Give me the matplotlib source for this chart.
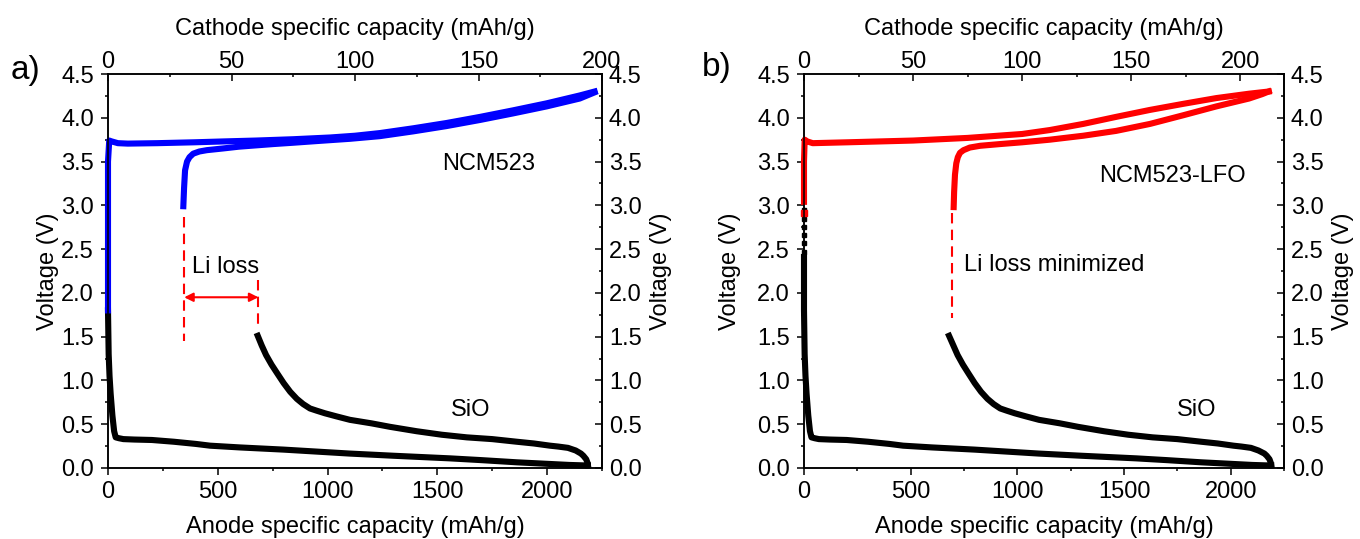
import numpy as np
import matplotlib
matplotlib.use('Agg')
import matplotlib.pyplot as plt
from matplotlib.ticker import MultipleLocator

plt.rcParams['font.family'] = ['Liberation Sans', 'DejaVu Sans']
plt.rcParams['axes.linewidth'] = 1.1

FS = 17
LW = 4.4

# ---- panel a: NCM523 (cathode axis, top) ----
a_chg_cap = [0, 0, 0, 0.5, 1.5, 4, 8, 20, 35, 47, 60, 75, 90, 100, 110, 123.6, 137, 150.6, 164, 177.6, 191, 197]
a_chg_v = [1.8, 2.6, 3.5, 3.74, 3.73, 3.71, 3.705, 3.71, 3.72, 3.73, 3.74, 3.755, 3.775, 3.795, 3.825,
           3.88, 3.94, 4.01, 4.085, 4.165, 4.255, 4.30]
a_dis_cap = [197, 191, 177.6, 164, 150.6, 137, 123.6, 110, 98, 85, 75, 67, 60, 53, 46.7, 40, 37, 34.5,
             33, 32, 31.2, 30.8, 30.5]
a_dis_v = [4.29, 4.22, 4.13, 4.05, 3.975, 3.905, 3.845, 3.79, 3.76, 3.735, 3.715, 3.70, 3.685, 3.67,
           3.65, 3.63, 3.615, 3.59, 3.55, 3.5, 3.4, 3.2, 2.99]

# ---- panel b: NCM523-LFO (cathode axis, top) ----
b_chg_cap = [0, 0, 0.3, 1.5, 4, 20, 50, 75, 100, 112.7, 128, 143, 158.6, 174, 189, 204, 213]
b_chg_v = [3.04, 3.5, 3.75, 3.73, 3.71, 3.72, 3.74, 3.77, 3.815, 3.86, 3.93, 4.01, 4.09, 4.16, 4.225, 4.275, 4.30]
b_dis_cap = [213, 210, 204, 189, 174, 158.6, 143, 128, 112.7, 100, 90, 80.7, 76, 73.1, 71.5, 70.5, 69.8,
             69.2, 68.8, 68.6]
b_dis_v = [4.30, 4.27, 4.22, 4.13, 4.03, 3.93, 3.85, 3.795, 3.75, 3.72, 3.70, 3.68, 3.66, 3.63, 3.60,
           3.55, 3.48, 3.35, 3.15, 2.98]
b_dot_cap = [0]
b_dot_v = [2.91]

# ---- SiO anode (anode axis, bottom) ----
sio_lith_cap = [0, 3, 7, 12, 20, 28, 35, 50, 70, 120, 200, 300, 400, 465, 600, 800, 1000, 1100, 1300,
                1558, 1700, 1862, 2013, 2100, 2165, 2186]
sio_lith_v = [1.8, 1.3, 1.05, 0.85, 0.6, 0.42, 0.35, 0.34, 0.33, 0.325, 0.32, 0.30, 0.275, 0.255, 0.235,
              0.21, 0.18, 0.165, 0.14, 0.11, 0.09, 0.065, 0.046, 0.035, 0.03, 0.03]
sio_deli_cap = [2186, 2184, 2178, 2165, 2154, 2130, 2095, 2050, 2013, 1940, 1862, 1750, 1634, 1520, 1406,
                1285, 1200, 1102, 1040, 988, 950, 920, 889, 860, 830, 800, 771, 745, 720, 700, 682]
sio_deli_v = [0.03, 0.06, 0.10, 0.14, 0.165, 0.20, 0.23, 0.245, 0.255, 0.28, 0.30, 0.33, 0.35, 0.38, 0.42,
              0.47, 0.51, 0.55, 0.59, 0.625, 0.655, 0.68, 0.73, 0.79, 0.87, 0.97, 1.08, 1.18, 1.29, 1.40, 1.51]

b_lith_cap = [0, 0] + sio_lith_cap[1:-1] + [2190]
b_lith_v = [2.41, 1.8] + sio_lith_v[1:]
b_deli_cap = [2190, 2188, 2182, 2169, 2158] + sio_deli_cap[5:-1] + [680]
b_deli_v = sio_deli_v
b_mark_cap = [0, 0, 0, 0, 0, 0]
b_mark_v = [2.95, 2.84, 2.75, 2.66, 2.57, 2.47]


def setup(fig, rect, top_max, ylpad):
    ax = fig.add_axes(rect)
    ax.set_xlim(0, 2250)
    ax.set_ylim(0, 4.5)
    ax.xaxis.set_major_locator(MultipleLocator(500))
    ax.xaxis.set_minor_locator(MultipleLocator(250))
    ax.yaxis.set_major_locator(MultipleLocator(0.5))
    ax.yaxis.set_minor_locator(MultipleLocator(0.25))
    ax.yaxis.set_major_formatter('{x:.1f}')
    ax.tick_params(axis='both', which='both', direction='out', top=False, right=False,
                   labelsize=FS, width=1.1)
    ax.tick_params(which='major', length=5)
    ax.tick_params(which='minor', length=2.5)
    ax.tick_params(axis='x', which='major', pad=4.5)
    ax.tick_params(axis='y', which='major', pad=5)
    ax.set_xlabel('Anode specific capacity (mAh/g)', fontsize=FS, labelpad=9)
    ax.set_ylabel('Voltage (V)', fontsize=FS, labelpad=ylpad)

    top = ax.twiny()
    top.set_xlim(0, top_max)
    top.xaxis.set_major_locator(MultipleLocator(50))
    top.xaxis.set_minor_locator(MultipleLocator(25))
    top.tick_params(axis='x', which='both', direction='in', labelsize=FS, width=1.1)
    top.tick_params(which='major', length=5, pad=0.5)
    top.tick_params(which='minor', length=2.5)
    top.set_xlabel('Cathode specific capacity (mAh/g)', fontsize=FS, labelpad=12)

    right = ax.secondary_yaxis('right')
    right.yaxis.set_major_locator(MultipleLocator(0.5))
    right.yaxis.set_minor_locator(MultipleLocator(0.25))
    right.yaxis.set_major_formatter('{x:.1f}')
    right.tick_params(axis='y', which='both', direction='in', labelsize=FS, width=1.1)
    right.tick_params(which='major', length=5, pad=5)
    right.tick_params(which='minor', length=2.5)
    right.set_ylabel('Voltage (V)', fontsize=FS, labelpad=6)
    return ax, top


fig = plt.figure(figsize=(13.6, 5.39), dpi=100)

# panel a
ax1, top1 = setup(fig, [108 / 1360, 71 / 539, 494 / 1360, 394 / 539], 200, 2)
ax1.plot(sio_lith_cap, sio_lith_v, color='black', lw=LW, clip_on=False)
ax1.plot(sio_deli_cap, sio_deli_v, color='black', lw=LW, clip_on=False)
top1.plot(a_chg_cap, a_chg_v, color='blue', lw=LW, clip_on=False)
top1.plot(a_dis_cap, a_dis_v, color='blue', lw=LW, clip_on=False)
ax1.plot([347, 347], [2.87, 1.45], color='red', lw=1.5, ls=(0, (5, 3)))
ax1.plot([685, 685], [2.15, 1.6], color='red', lw=1.5, ls=(0, (5, 3)))
ax1.annotate('', xy=(685, 1.95), xytext=(347, 1.95),
             arrowprops=dict(arrowstyle='<|-|>', color='red', lw=1.5, mutation_scale=13,
                             shrinkA=0, shrinkB=0))
ax1.text(536, 2.30, 'Li loss', fontsize=FS, ha='center', va='center')
ax1.text(1735, 3.47, 'NCM523', fontsize=FS, ha='center', va='center')
ax1.text(1651, 0.66, 'SiO', fontsize=FS, ha='center', va='center')
fig.text(25 / 1360, 1 - 70 / 539, 'a)', fontsize=24, ha='center', va='center')

# panel b
ax2, top2 = setup(fig, [804 / 1360, 71 / 539, 480 / 1360, 394 / 539], 220, 12)
ax2.plot(b_lith_cap, b_lith_v, color='black', lw=LW, clip_on=False)
ax2.plot(b_deli_cap, b_deli_v, color='black', lw=LW, clip_on=False)
ax2.plot(b_mark_cap, b_mark_v, ls='none', marker='s', ms=3.5, color='black', clip_on=False)
top2.plot(b_chg_cap, b_chg_v, color='red', lw=LW, clip_on=False)
top2.plot(b_dis_cap, b_dis_v, color='red', lw=LW, clip_on=False)
top2.plot(b_dot_cap, b_dot_v, ls='none', marker='s', ms=4.5, color='red', clip_on=False)
ax2.plot([693, 693], [2.91, 1.71], color='red', lw=1.5, ls=(0, (5, 3)))
ax2.text(750, 2.32, 'Li loss minimized', fontsize=FS, ha='left', va='center')
ax2.text(1725, 3.33, 'NCM523-LFO', fontsize=FS, ha='center', va='center')
ax2.text(1842, 0.66, 'SiO', fontsize=FS, ha='center', va='center')
fig.text(717 / 1360, 1 - 67 / 539, 'b)', fontsize=24, ha='center', va='center')

fig.savefig('out.png', dpi=100)
